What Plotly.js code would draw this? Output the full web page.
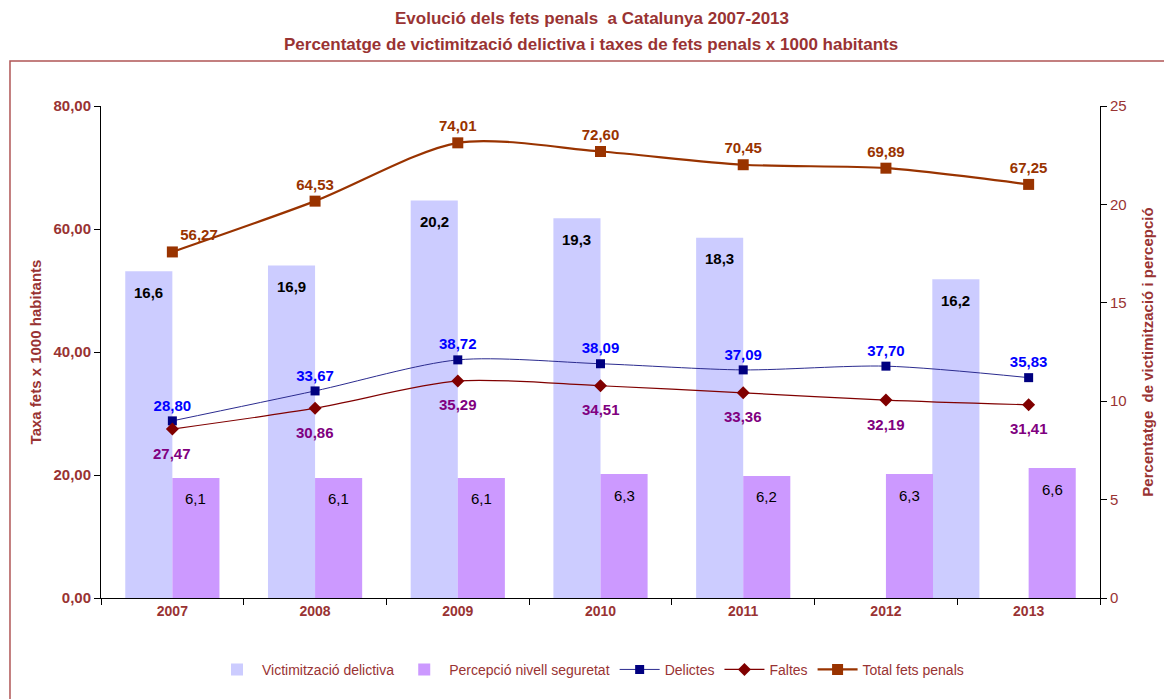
<!DOCTYPE html>
<html>
<head>
<meta charset="utf-8">
<script src="https://cdn.plot.ly/plotly-3.0.1.min.js"></script>
<style>html,body{margin:0;padding:0;background:#fff;}#chart{width:1164px;height:699px;}</style>
</head>
<body>
<div id="chart"></div>
<script>
// ---- data ----
var years = ['2007','2008','2009','2010','2011','2012','2013'];
var victimitzacio = [16.6, 16.9, 20.2, 19.3, 18.3, null, 16.2];
var percepcio = [6.1, 6.1, 6.1, 6.3, 6.2, 6.3, 6.6];
var delictes = [28.80, 33.67, 38.72, 38.09, 37.09, 37.70, 35.83];
var faltes = [27.47, 30.86, 35.29, 34.51, 33.36, 32.19, 31.41];
var totalFets = [56.27, 64.53, 74.01, 72.60, 70.45, 69.89, 67.25];

// ---- styling ----
var FONT = 'Liberation Sans, Arial, sans-serif';
var RED = '#993333';
var BW = 0.33;
var victimOffset = [-BW, -BW, -BW, -BW, -BW, -BW, -0.675];
var percOffset = [0, 0, 0, 0, 0, 0, 0];

function fmt(v, d) { return v.toFixed(d).replace('.', ','); }

// bars on the primary (right-side, %) axis so lines are drawn on top
var traces = [
  {
    type: 'bar', name: 'Victimització delictiva', x: years, y: victimitzacio,
    yaxis: 'y', width: BW, offset: victimOffset,
    marker: {color: '#ccccff'}, hoverinfo: 'skip'
  },
  {
    type: 'bar', name: 'Percepció nivell seguretat', x: years, y: percepcio,
    yaxis: 'y', width: BW, offset: percOffset,
    marker: {color: '#cc99ff'}, hoverinfo: 'skip'
  },
  {
    type: 'scatter', mode: 'lines+markers+text', name: 'Delictes', x: years, y: delictes,
    yaxis: 'y2',
    line: {color: '#2b2b8f', width: 1, shape: 'spline', smoothing: 0.8},
    marker: {symbol: 'square', size: 9, color: '#000080'},
    text: delictes.map(function (v) { return fmt(v, 2); }),
    textposition: 'top center',
    textfont: {family: FONT, size: 15, color: '#0000ff', weight: 'bold'},
    cliponaxis: false
  },
  {
    type: 'scatter', mode: 'lines+markers', name: 'Faltes', x: years, y: faltes,
    yaxis: 'y2',
    line: {color: '#800000', width: 1.2, shape: 'spline', smoothing: 0.8},
    marker: {symbol: 'diamond', size: 10, color: '#800000'},
    cliponaxis: false
  },
  {
    type: 'scatter', mode: 'lines+markers+text', name: 'Total fets penals', x: years, y: totalFets,
    yaxis: 'y2',
    line: {color: '#993300', width: 2.2, shape: 'spline', smoothing: 0.8},
    marker: {symbol: 'square', size: 11, color: '#993300'},
    text: totalFets.map(function (v) { return fmt(v, 2); }),
    textposition: ['top right', 'top center', 'top center', 'top center', 'top center', 'top center', 'top center'],
    textfont: {family: FONT, size: 15, color: '#993300', weight: 'bold'},
    cliponaxis: false
  }
];

var annotations = [];
victimitzacio.forEach(function (v, i) {
  if (v === null) return;
  annotations.push({
    x: i + victimOffset[i] + BW / 2, y: v, xref: 'x', yref: 'y',
    text: fmt(v, 1), showarrow: false, yshift: -21,
    font: {family: FONT, size: 15, color: '#000000', weight: 'bold'}
  });
});
percepcio.forEach(function (v, i) {
  annotations.push({
    x: i + percOffset[i] + BW / 2, y: v, xref: 'x', yref: 'y',
    text: fmt(v, 1), showarrow: false, yshift: -21,
    font: {family: FONT, size: 15, color: '#000000'}
  });
});
faltes.forEach(function (v, i) {
  annotations.push({
    x: i, y: v, xref: 'x', yref: 'y2',
    text: fmt(v, 2), showarrow: false, yshift: -24,
    font: {family: FONT, size: 15, color: '#800080', weight: 'bold'}
  });
});
annotations.push({
  xref: 'paper', yref: 'paper', x: 0.4905, y: 1.124, xanchor: 'center', yanchor: 'middle',
  text: 'Percentatge de victimització delictiva i taxes de fets penals x 1000 habitants',
  showarrow: false, font: {family: FONT, size: 17, color: RED, weight: 'bold'}
});

var layout = {
  width: 1164, height: 699,
  margin: {l: 101, r: 64, t: 106, b: 101},
  paper_bgcolor: '#ffffff', plot_bgcolor: '#ffffff',
  separators: ',.',
  barmode: 'overlay',
  showlegend: true,
  title: {
    text: 'Evolució dels fets penals  a Catalunya 2007-2013',
    x: 0.5086, xref: 'container', xanchor: 'center',
    y: 0.974, yref: 'container', yanchor: 'middle',
    font: {family: FONT, size: 17, color: RED, weight: 'bold'}
  },
  xaxis: {
    type: 'category', range: [-0.5, 6.5],
    showline: true, linecolor: '#000000', linewidth: 1,
    ticks: 'outside', tickson: 'boundaries', ticklen: 6, tickcolor: '#000000',
    showgrid: false, zeroline: false,
    tickfont: {family: FONT, size: 14, color: RED, weight: 'bold'}
  },
  yaxis: {
    range: [0, 25], dtick: 5, side: 'right',
    showline: true, linecolor: '#000000', linewidth: 1,
    ticks: 'outside', ticklen: 6, tickcolor: '#000000',
    showgrid: false, zeroline: false,
    tickfont: {family: FONT, size: 15, color: RED},
    title: {text: 'Percentatge  de victimització i percepció', standoff: 16,
            font: {family: FONT, size: 15, color: RED, weight: 'bold'}}
  },
  yaxis2: {
    range: [0, 80], dtick: 20, tickformat: '.2f', overlaying: 'y', side: 'left',
    showline: true, linecolor: '#000000', linewidth: 1,
    ticks: 'outside', ticklen: 6, tickcolor: '#000000',
    showgrid: false, zeroline: false,
    tickfont: {family: FONT, size: 15, color: RED, weight: 'bold'},
    title: {text: 'Taxa fets x 1000 habitants', standoff: 8,
            font: {family: FONT, size: 15, color: RED, weight: 'bold'}}
  },
  legend: {
    orientation: 'h', x: 0.49, xanchor: 'center', y: -0.146, yanchor: 'middle',
    font: {family: FONT, size: 14, color: RED},
    itemwidth: 40, tracegroupgap: 0, bgcolor: 'rgba(0,0,0,0)'
  },
  annotations: annotations,
  shapes: [{
    type: 'rect', xref: 'paper', yref: 'paper',
    x0: -0.0911, x1: 1.075, y0: -0.23, y1: 1.0915,
    line: {color: '#b05555', width: 1.5}, fillcolor: 'rgba(0,0,0,0)', layer: 'below'
  }]
};

Plotly.newPlot('chart', traces, layout, {displayModeBar: false, staticPlot: true});
</script>
</body>
</html>
